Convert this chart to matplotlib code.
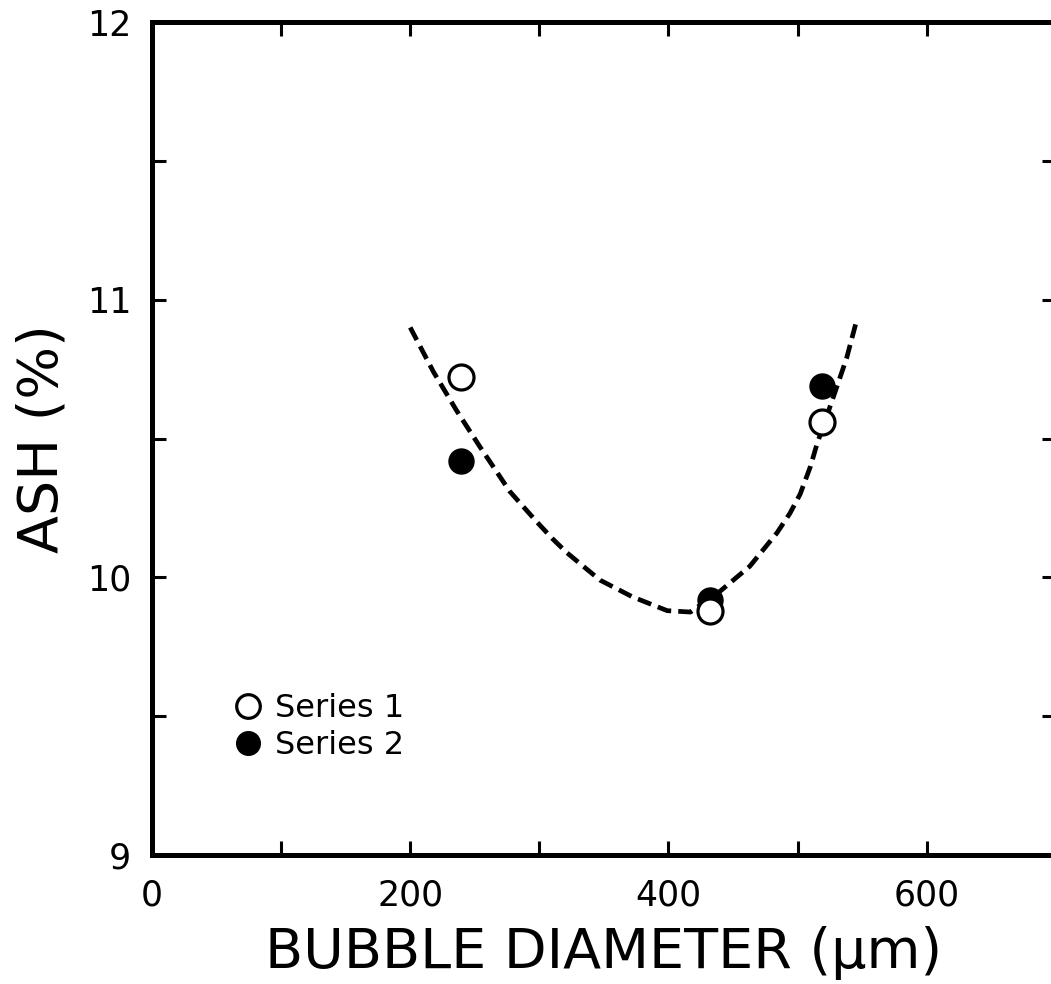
import numpy as np
import matplotlib.pyplot as plt
from matplotlib.lines import Line2D

# Measured ash content at three bubble sizes
diameter = [239, 432, 519]
ash_series1 = [10.72, 9.88, 10.56]
ash_series2 = [10.42, 9.92, 10.69]

# Fitted trend curve (dashed)
fit_x = [200, 218, 236, 254, 267, 277, 298, 310, 321, 347, 372, 399, 417,
         440, 463, 484, 494, 502, 510, 515, 527, 538, 546]
fit_y = [10.90, 10.74, 10.60, 10.47, 10.38, 10.31, 10.20, 10.14, 10.09, 9.99,
         9.93, 9.88, 9.875, 9.95, 10.04, 10.16, 10.23, 10.30, 10.40, 10.48,
         10.64, 10.79, 10.93]

fig = plt.figure(figsize=(10.51, 9.84), dpi=100)
ax = fig.add_axes([0.1446, 0.1311, 0.860, 0.8465])

ax.plot(fit_x, fit_y, color='black', lw=3.4, ls=(0, (3.0, 1.5)), zorder=2)
ax.plot(diameter, ash_series2, 'o', ms=18, color='black', zorder=3)
ax.plot(diameter, ash_series1, 'o', ms=18, mfc='white', mec='black', mew=2.3, zorder=4)

ax.set_xlim(0, 700)
ax.set_ylim(9, 12)
ax.set_xticks([0, 200, 400, 600])
ax.set_xticks([100, 300, 500, 700], minor=True)
ax.set_yticks([9, 10, 11, 12])
ax.set_yticklabels(['9', '10', '11', '12'])
ax.set_yticks([9.5, 10.5, 11.5], minor=True)

for s in ax.spines.values():
    s.set_linewidth(3.6)

ax.tick_params(which='both', direction='in', length=10, width=2.2,
               top=True, right=True, labelsize=25)
ax.tick_params(axis='x', pad=17)
ax.tick_params(axis='y', pad=15)

ax.set_xlabel('BUBBLE DIAMETER (μm)', fontsize=40, labelpad=10)
ax.set_ylabel('ASH (%)', fontsize=40, labelpad=12)

handles = [
    Line2D([], [], ls='none', marker='o', ms=17, mfc='white', mec='black', mew=2.3),
    Line2D([], [], ls='none', marker='o', ms=17, color='black'),
]
ax.legend(handles, ['Series 1', 'Series 2'], loc='upper left',
          bbox_to_anchor=(0.078, 0.21), frameon=False, fontsize=23,
          handlelength=0.8, handletextpad=0.45, labelspacing=0.2,
          borderaxespad=0)

fig.savefig('out.png', dpi=100)
